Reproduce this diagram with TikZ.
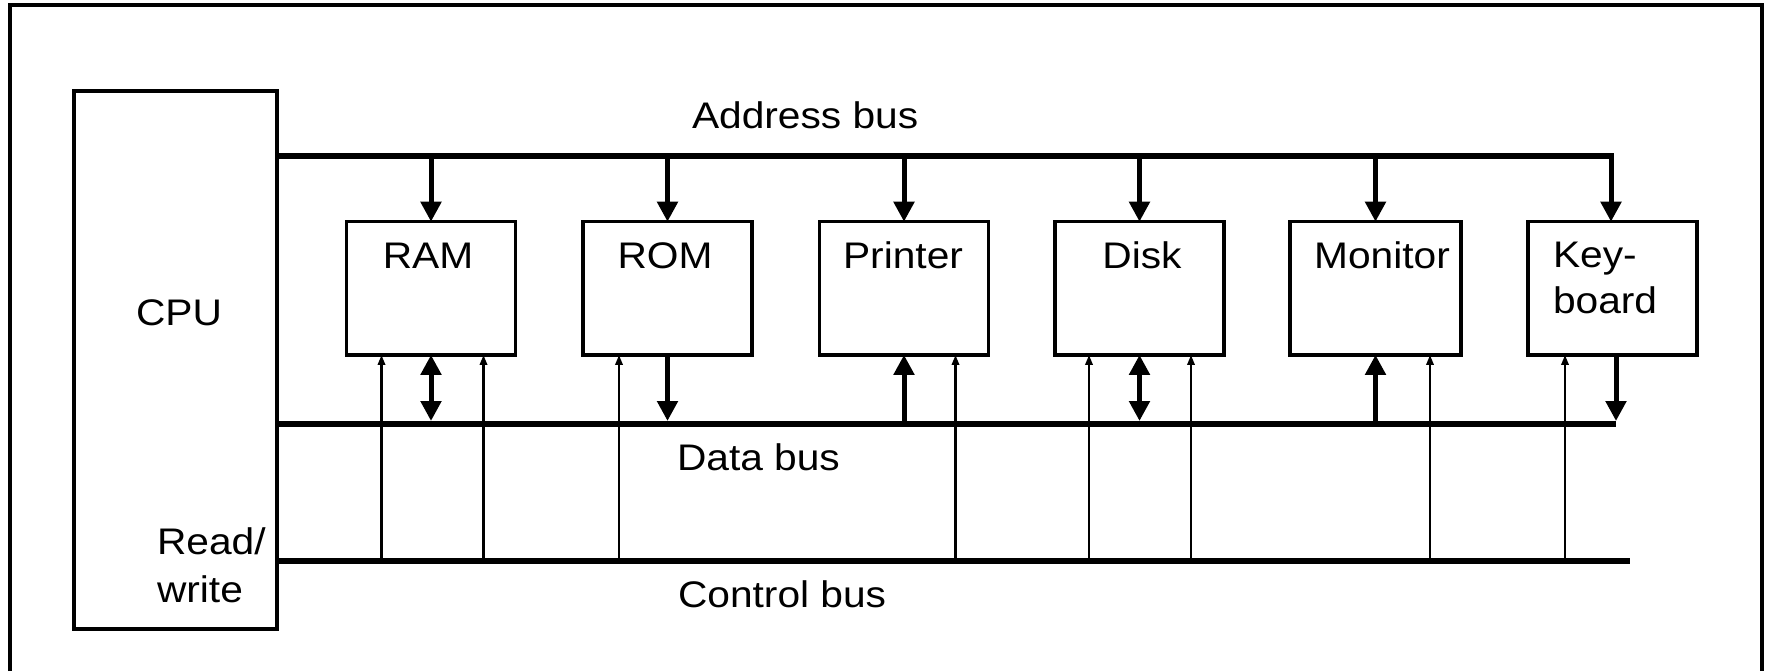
\documentclass[tikz,border=0pt]{standalone}
\usepackage{fontspec}
\newfontfamily\lab[FakeStretch=1.1]{Liberation Sans}
\usetikzlibrary{arrows.meta,calc}
\begin{document}
\begin{tikzpicture}[x=0.5pt,y=-0.5pt,
  txt/.style={font=\lab\fontsize{18.5}{22}\selectfont, inner sep=0pt, outer sep=0pt},
  frame/.style={line width=2pt},
  unit/.style={draw, line width=1.6pt, minimum width=84.5pt, minimum height=66.6pt, inner sep=0pt, outer sep=0pt},
  bus/.style={line width=3pt},
  wide/.style={line width=2.5pt, -{Triangle[length=10pt,width=10pt]}},
  wideboth/.style={line width=2.5pt, {Triangle[length=10pt,width=10pt]}-{Triangle[length=10pt,width=10pt]}},
  ctrl/.style={line width=1.3pt, -{Triangle[length=5pt,width=3.6pt]}}
]
\useasboundingbox (0,0) rectangle (1768,671);
\draw[frame] (10,671) -- (10,5) -- (1762,5) -- (1762,671);

% units
\node[unit, minimum width=101.5pt, minimum height=269pt] (cpu) at (175.5,360) {};
\node[unit] (ram) at (431,288.3) {};
\node[unit] (rom) at (667.5,288.3) {};
\node[unit] (prn) at (904,288.3) {};
\node[unit] (dsk) at (1139.5,288.3) {};
\node[unit, minimum width=85.5pt] (mon) at (1375.5,288.3) {};
\node[unit] (kbd) at (1612.5,288.3) {};

% bus ends
\coordinate (abR) at (1611,156);
\coordinate (dbR) at (1616,424);
\coordinate (cbR) at (1630,561);
\coordinate (dbtop) at (0,421);

% buses
\draw[bus] (cpu.east |- abR) -- (abR);
\draw[bus] (cpu.east |- dbR) -- (dbR);
\draw[bus] (cpu.east |- cbR) -- (cbR);

% address bus drops
\foreach \b in {ram,rom,prn,dsk,mon}
  \draw[wide] (\b.north |- abR) -- (\b.north);
\draw[wide] ($(abR)+(0,-3)$) -- (abR |- kbd.north);

% data bus links
\draw[wideboth] (ram.south) -- (ram.south |- dbtop);
\draw[wide] (rom.south) -- (rom.south |- dbtop);
\draw[wide] (prn.south |- dbR) -- (prn.south);
\draw[wideboth] (dsk.south) -- (dsk.south |- dbtop);
\draw[wide] (mon.south |- dbR) -- (mon.south);
\draw[wide] (dbR |- kbd.south) -- (dbR |- dbtop);

% control bus links
\foreach \b/\d in {ram/35, ram/137, rom/36, prn/136, dsk/34, dsk/136, mon/140, kbd/37}{
  \path ($(\b.south west)+(\d,0)$) coordinate (t);
  \draw[ctrl] (t |- cbR) -- (t);
}

% texts
\node[txt, anchor=base] (tcpu) at (179,325) {CPU};
\node[txt, anchor=base west] (trw1) at (157,554) {Read/};
\node[txt, anchor=base west] (trw2) at (157,602) {write};
\node[txt, anchor=base] (tram) at (428,268) {RAM};
\node[txt, anchor=base] (trom) at (665,268) {ROM};
\node[txt, anchor=base] (tprn) at (903,268) {Printer};
\node[txt, anchor=base] (tdsk) at (1142,268) {Disk};
\node[txt, anchor=base] (tmon) at (1382,268) {Monitor};
\node[txt, anchor=base west] (tkb1) at (1553,267) {Key-};
\node[txt, anchor=base west] (tkb2) at (1553,313) {board};
\node[txt, anchor=base west] (tab) at (692,128) {Address bus};
\node[txt, anchor=base west] (tdb) at (677,470) {Data bus};
\node[txt, anchor=base west] (tcb) at (678,607) {Control bus};
\end{tikzpicture}
\end{document}
